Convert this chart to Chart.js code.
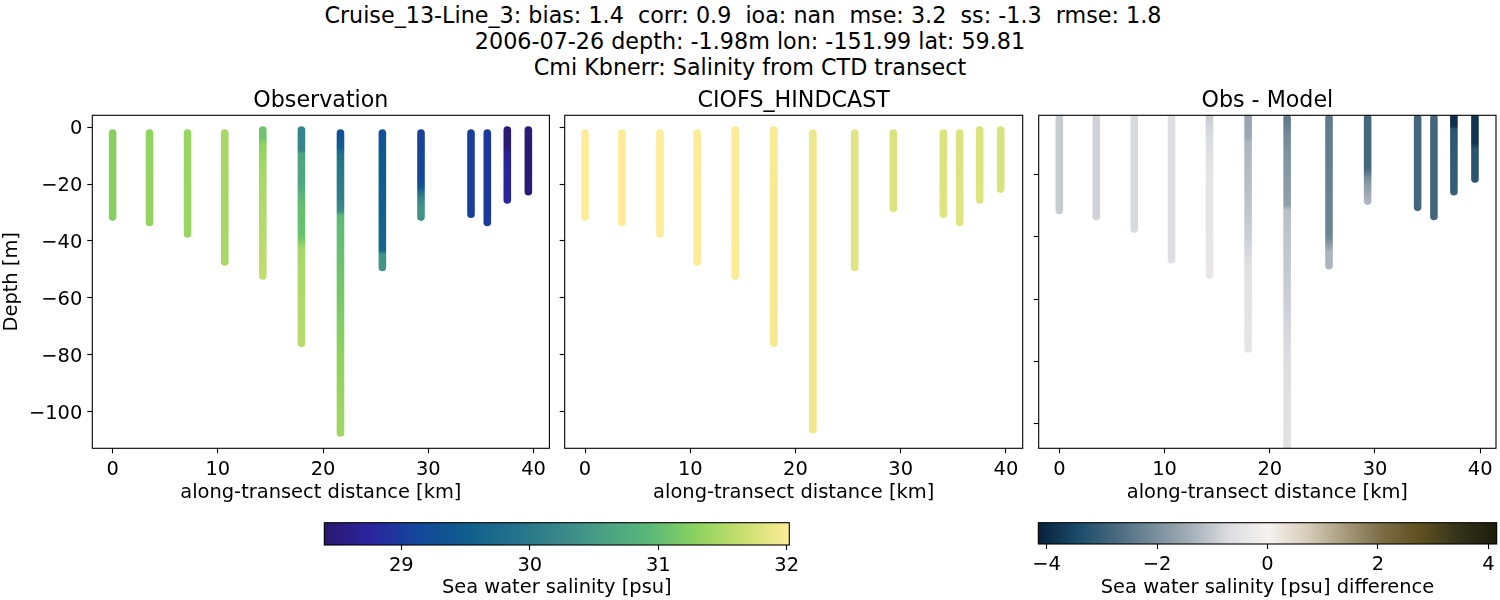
<!DOCTYPE html>
<html>
<head>
<meta charset="utf-8">
<title>Cruise_13-Line_3 salinity transect</title>
<script src="https://cdn.jsdelivr.net/npm/chart.js@4"></script>
<style>
    html, body { margin: 0; padding: 0; background: #fff; }
    #page { position: relative; width: 1500px; height: 600px; overflow: hidden; }
    #page canvas { position: absolute; }
    #suptitle {
        position: absolute; left: 0; top: 2px; width: 1500px;
        text-align: center; white-space: pre; color: #000;
        font: 22.25px/26px "DejaVu Sans", sans-serif;
    }
</style>
</head>
<body>
<div id="page">
    <div id="suptitle">Cruise_13-Line_3: bias: 1.4  corr: 0.9  ioa: nan  mse: 3.2  ss: -1.3  rmse: 1.8  
2006-07-26 depth: -1.98m lon: -151.99 lat: 59.81
Cmi Kbnerr: Salinity from CTD transect</div>
    <canvas id="obsChart" width="552" height="420" style="left:0;top:85px"></canvas>
    <canvas id="modelChart" width="475" height="420" style="left:555px;top:85px"></canvas>
    <canvas id="diffChart" width="470" height="420" style="left:1030px;top:85px"></canvas>
    <canvas id="salinityBar" width="520" height="85" style="left:300px;top:515px"></canvas>
    <canvas id="diffBar" width="480" height="85" style="left:1020px;top:515px"></canvas>
</div>

<script>
// Cast positions along the transect [km]
const castDistance = [0, 3.51, 7.12, 10.66, 14.27, 17.94, 21.65, 25.63, 29.3, 34.05, 35.6, 37.5, 39.5];

// Observation: depth samples [m] and salinity [psu] per cast
const obsDepth = [
    [-2, -31.6],
    [-2, -33.5],
    [-2, -37.5],
    [-2, -47.4],
    [-1, -4, -6, -15, -35, -52.3],
    [-1, -8, -9.5, -20, -27, -38, -40, -43, -76],
    [-2, -7, -10, -25, -29.5, -31, -60, -80, -107.5],
    [-2, -10, -30, -43.5, -44.5, -49.3],
    [-2, -18, -21, -24, -28, -31.6],
    [-2, -30.6],
    [-2, -33.5],
    [-1, -7.5, -9, -25.6],
    [-1, -22.7]
];
const obsSalinity = [
    [31.25, 31.25],
    [31.32, 31.33],
    [31.37, 31.39],
    [31.45, 31.47],
    [31.1, 31.1, 31.3, 31.45, 31.55, 31.6],
    [30.2, 30.2, 30.65, 30.7, 31.0, 31.05, 31.2, 31.45, 31.55],
    [29.3, 29.5, 29.9, 30.1, 30.3, 30.95, 31.15, 31.3, 31.42],
    [29.3, 29.45, 29.55, 29.7, 30.4, 30.45],
    [29.05, 29.12, 29.35, 30.05, 30.4, 30.4],
    [29.05, 29.05],
    [28.97, 28.98],
    [28.45, 28.47, 28.7, 28.75],
    [28.45, 28.47]
];

// Model: depth samples [m] and salinity [psu] per cast
const modelDepth = [
    [-2, -31.6], [-2, -33.5], [-2, -37.5], [-2, -47.4], [-1, -52.3], [-1, -76], [-2, -106.4],
    [-2, -49.3], [-2, -28.6], [-2, -30.6], [-2, -33.5], [-1, -25.6], [-1, -21.7]
];
const modelSalinity = [
    [32.02, 32.02], [32.02, 32.02], [32.02, 32.02], [32.02, 32.01], [32.0, 31.99], [31.97, 31.96], [31.9, 31.9],
    [31.82, 31.82], [31.78, 31.78], [31.78, 31.8], [31.78, 31.82], [31.78, 31.8], [31.76, 31.76]
];

// Obs - Model: depth samples [m] and difference [psu] per cast
const diffDepth = [
    [-2, -31.6],
    [-2, -33.5],
    [-2, -37.5],
    [-2, -47.4],
    [-1, -8, -20, -52.3],
    [-1, -8, -10, -28, -40, -50, -76],
    [-2, -8, -15, -30, -31.5, -60, -80, -107.5],
    [-2, -40, -43.5, -45, -49.3],
    [-2, -18, -22, -28.6],
    [-2, -30.6],
    [-2, -33.5],
    [-1, -4.5, -5.5, -25.6],
    [-1, -10, -12, -21.5]
];
const diffSalinity = [
    [-0.95, -0.95],
    [-0.85, -0.85],
    [-0.75, -0.75],
    [-0.65, -0.62],
    [-0.95, -0.7, -0.45, -0.38],
    [-1.6, -1.55, -1.3, -1.1, -0.9, -0.55, -0.45],
    [-2.4, -2.1, -1.9, -1.7, -1.15, -0.9, -0.65, -0.55],
    [-2.4, -2.2, -1.6, -1.3, -1.3],
    [-2.8, -2.8, -1.9, -1.3],
    [-2.8, -2.8],
    [-2.8, -2.8],
    [-3.9, -3.9, -3.2, -3.0],
    [-3.8, -3.8, -3.2, -3.2]
];

// Axis ticks and limits
const xTicks = [0, 10, 20, 30, 40];
const depthTicks = [0, -20, -40, -60, -80, -100];
const depthTickLabels = ['0', '\u221220', '\u221240', '\u221260', '\u221280', '\u2212100'];
const diffDepthTicks = [-20, -40, -60, -80, -100];
const salinityRange = [28.4, 32.02];
const salinityTicks = [29, 30, 31, 32];
const diffRange = [-4.15, 4.15];
const diffTicks = [-4, -2, 0, 2, 4];
const diffTickLabels = ['\u22124', '\u22122', '0', '2', '4'];

// Colormaps
const halineColors = ['#2a186c', '#2a25a0', '#13479a', '#0f5c8e', '#22708b', '#38858a', '#4aa085', '#5ab878', '#8dd25f', '#c8df70', '#feec98'];
const diffColors = ['#08203a', '#184a68', '#47687f', '#768c9a', '#a5b0b9', '#dcdde0', '#f6f2f0', '#d9cfbc', '#a89c7e', '#7b6c45', '#5f5020', '#33331a', '#1c1c0a'];

const FONT = 'DejaVu Sans';
const LABEL_SIZE = 19.44;

Chart.defaults.font.family = FONT;
Chart.defaults.font.size = LABEL_SIZE;
Chart.defaults.color = '#000';
Chart.defaults.devicePixelRatio = 1;

// Black box around the plot area, matplotlib style
const framePlugin = {
    id: 'frame',
    afterDraw(chart) {
        const a = chart.chartArea;
        const ctx = chart.ctx;
        ctx.save();
        ctx.strokeStyle = '#000';
        ctx.lineWidth = 1.1;
        ctx.strokeRect(a.left, a.top, a.right - a.left, a.bottom - a.top);
        ctx.restore();
    }
};

function hexToRgb(hex) {
    return [1, 3, 5].map(i => parseInt(hex.slice(i, i + 2), 16));
}

function colorFor(value, range, colors) {
    const t = Math.min(1, Math.max(0, (value - range[0]) / (range[1] - range[0])));
    const pos = t * (colors.length - 1);
    const i = Math.min(colors.length - 2, Math.floor(pos));
    const a = hexToRgb(colors[i]);
    const b = hexToRgb(colors[i + 1]);
    const f = pos - i;
    return `rgb(${a.map((c, k) => Math.round(c + (b[k] - c) * f)).join(',')})`;
}

// Vertical gradient along one cast, coloured by its values
function castGradient(chart, depths, values, range, colors) {
    const y = chart.scales.y;
    if (!chart.chartArea || !y) return colors[0];
    const y0 = y.getPixelForValue(depths[0]);
    const y1 = y.getPixelForValue(depths[depths.length - 1]);
    const gradient = chart.ctx.createLinearGradient(0, y0, 0, y1);
    depths.forEach((d, i) => {
        gradient.addColorStop((d - depths[0]) / (depths[depths.length - 1] - depths[0]), colorFor(values[i], range, colors));
    });
    return gradient;
}

function tickScale(values, labels, padding, fontOpts, options) {
    return Object.assign({
        type: 'linear',
        border: { display: false },
        grid: { drawOnChartArea: false, drawTicks: true, tickLength: 5, tickColor: '#000', tickWidth: 1.1 },
        ticks: {
            padding: padding,
            autoSkip: false,
            maxRotation: 0,
            font: fontOpts,
            color: '#000',
            callback: v => {
                const i = values.indexOf(v);
                return labels && i >= 0 ? labels[i] : '';
            }
        },
        afterBuildTicks: axis => {
            axis.ticks = values.map(v => ({ value: v }));
        }
    }, options);
}

function drawPanel(id, opts) {
    const datasets = castDistance.map((x, i) => ({
        data: opts.depths[i].map(d => ({ x: x, y: d })),
        showLine: true,
        pointRadius: 0,
        borderWidth: 7.6,
        borderCapStyle: 'round',
        tension: 0,
        clip: 0,
        borderColor: ctx => castGradient(ctx.chart, opts.depths[i], opts.values[i], opts.range, opts.colors)
    }));

    // Empty first line nudges the label down to sit level with its tick
    const yLabels = opts.yLabels ? opts.yLabels.map(l => ['', l]) : null;

    new Chart(document.getElementById(id), {
        type: 'scatter',
        data: { datasets },
        options: {
            responsive: false,
            animation: false,
            layout: { autoPadding: false, padding: { right: opts.padRight } },
            plugins: {
                legend: { display: false },
                tooltip: { enabled: false },
                title: {
                    display: true,
                    text: opts.title,
                    fullSize: false,
                    color: '#000',
                    font: { size: 22.2, weight: 'normal', lineHeight: 1.2 },
                    padding: { top: 3, bottom: 0.66 }
                }
            },
            scales: {
                x: tickScale(xTicks, xTicks.map(String), 5, { size: LABEL_SIZE }, {
                    min: opts.xLim[0],
                    max: opts.xLim[1],
                    title: { display: true, text: 'along-transect distance [km]', padding: 0, color: '#000', font: { size: LABEL_SIZE, lineHeight: 1.2 } },
                    afterFit: axis => { axis.height = 56.7; }
                }),
                y: tickScale(opts.yTicks, yLabels, 5, { size: LABEL_SIZE, lineHeight: 0.2 }, {
                    min: opts.yLim[0],
                    max: opts.yLim[1],
                    title: { display: !!opts.yTitle, text: opts.yTitle, padding: 0, color: '#000', font: { size: LABEL_SIZE, lineHeight: 1.2 } },
                    afterFit: axis => { axis.width = opts.axisWidth; }
                })
            }
        },
        plugins: [framePlugin]
    });
}

function drawColorbar(id, opts) {
    new Chart(document.getElementById(id), {
        type: 'bar',
        data: {
            labels: [opts.label],
            datasets: [{
                data: [opts.range],
                barPercentage: 1,
                categoryPercentage: 1,
                backgroundColor: ctx => {
                    const chart = ctx.chart;
                    if (!chart.chartArea) return opts.colors[0];
                    const gradient = chart.ctx.createLinearGradient(chart.chartArea.left, 0, chart.chartArea.right, 0);
                    opts.colors.forEach((c, i) => gradient.addColorStop(i / (opts.colors.length - 1), c));
                    return gradient;
                }
            }]
        },
        options: {
            indexAxis: 'y',
            responsive: false,
            animation: false,
            layout: { autoPadding: false, padding: { left: opts.padLeft, right: opts.padRight, top: 7.7, bottom: 0 } },
            plugins: { legend: { display: false }, tooltip: { enabled: false } },
            scales: {
                y: { display: false },
                x: tickScale(opts.ticks, opts.tickLabels, 4, { size: LABEL_SIZE }, {
                    min: opts.range[0],
                    max: opts.range[1],
                    title: { display: true, text: opts.label, padding: 0, color: '#000', font: { size: LABEL_SIZE, lineHeight: 1.2 } },
                    afterFit: axis => { axis.height = opts.axisHeight; }
                })
            }
        },
        plugins: [framePlugin]
    });
}

drawPanel('obsChart', {
    title: 'Observation', depths: obsDepth, values: obsSalinity, range: salinityRange, colors: halineColors,
    xLim: [-1.93, 41.5], yLim: [-112.9, 4.2], yTicks: depthTicks, yLabels: depthTickLabels, yTitle: 'Depth [m]',
    axisWidth: 92.3, padRight: 2.6
});
drawPanel('modelChart', {
    title: 'CIOFS_HINDCAST', depths: modelDepth, values: modelSalinity, range: salinityRange, colors: halineColors,
    xLim: [-1.93, 41.59], yLim: [-112.9, 4.2], yTicks: depthTicks, yLabels: null, yTitle: '',
    axisWidth: 9.7, padRight: 7.3
});
drawPanel('diffChart', {
    title: 'Obs - Model', depths: diffDepth, values: diffSalinity, range: diffRange, colors: diffColors,
    xLim: [-1.96, 41.5], yLim: [-107.8, -1.1], yTicks: diffDepthTicks, yLabels: null, yTitle: '',
    axisWidth: 8.7, padRight: 4
});

drawColorbar('salinityBar', {
    label: 'Sea water salinity [psu]', range: salinityRange, colors: halineColors,
    ticks: salinityTicks, tickLabels: salinityTicks.map(String),
    padLeft: 24.3, padRight: 30.7, axisHeight: 55
});
drawColorbar('diffBar', {
    label: 'Sea water salinity [psu] difference', range: diffRange, colors: diffColors,
    ticks: diffTicks, tickLabels: diffTickLabels,
    padLeft: 18.3, padRight: 3.3, axisHeight: 56
});
</script>
</body>
</html>
